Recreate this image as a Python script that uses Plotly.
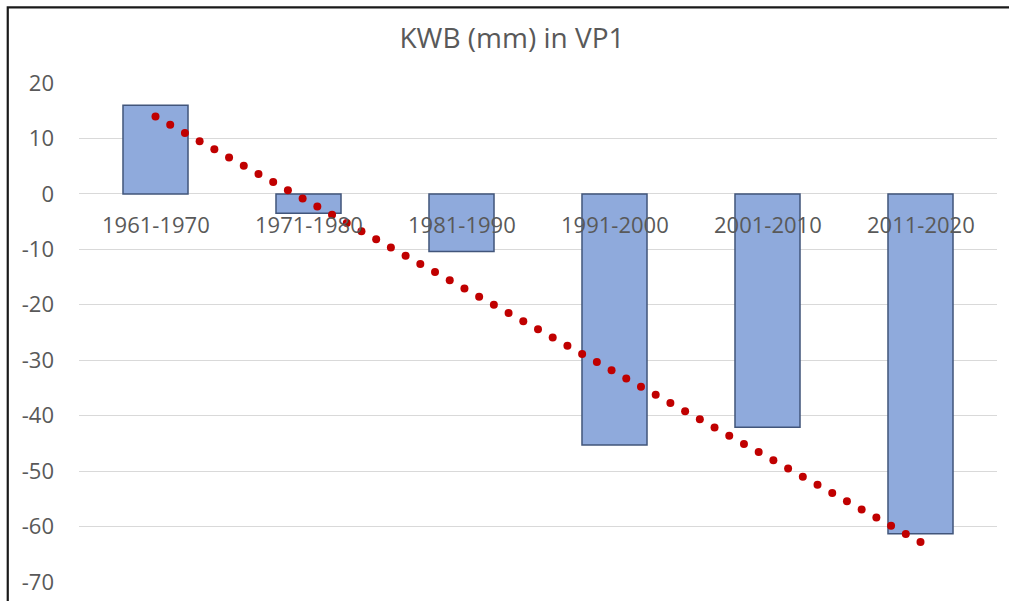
import numpy as np
import plotly.graph_objects as go

# Decades and climatic water balance (KWB) per decade, mm
decades = ["1961-1970", "1971-1980", "1981-1990", "1991-2000", "2001-2010", "2011-2020"]
kwb_mm = [16.0, -3.5, -10.4, -45.3, -42.1, -61.3]
y_ticks = [20, 10, 0, -10, -20, -30, -40, -50, -60, -70]

positions = np.arange(1, len(decades) + 1)

# Linear trend through the decade values
slope, intercept = np.polyfit(positions, kwb_mm, 1)
trend_x = np.linspace(positions[0], positions[-1], 53)
trend_y = slope * trend_x + intercept

TEXT = "#595959"
FONT = "Open Sans"

fig = go.Figure()

fig.add_trace(go.Bar(
    x=positions,
    y=kwb_mm,
    marker=dict(color="#8FAADC", line=dict(color="#41557A", width=1.5)),
    width=0.425,
    hoverinfo="skip",
))

# Dotted trend line drawn as round dots
fig.add_trace(go.Scatter(
    x=trend_x,
    y=trend_y,
    mode="markers",
    marker=dict(color="#C00000", size=8, line=dict(width=0)),
    hoverinfo="skip",
))

# Category labels sit next to the zero line
for pos, label in zip(positions, decades):
    fig.add_annotation(
        x=pos, y=0, xref="x", yref="y",
        text=label, showarrow=False,
        yanchor="middle", yshift=-30,
        font=dict(family=FONT, size=22, color=TEXT),
    )

# Chart frame
fig.add_shape(
    type="rect", xref="paper", yref="paper",
    x0=-0.0776, x1=1.2, y0=-0.2, y1=1.1514,
    line=dict(color="#1A1A1A", width=2.2),
    fillcolor="rgba(0,0,0,0)", layer="above",
)

fig.update_layout(
    width=1009, height=601,
    margin=dict(l=79, r=12, t=83, b=19, autoexpand=False),
    paper_bgcolor="white",
    plot_bgcolor="white",
    showlegend=False,
    title=dict(
        text="KWB (mm) in VP1",
        x=512 / 1009, xanchor="center",
        y=1 - 38 / 601, yanchor="middle",
        font=dict(family=FONT, size=28, color=TEXT),
    ),
    xaxis=dict(
        range=[0.5, len(decades) + 0.5],
        showticklabels=False, showgrid=False, zeroline=False,
        showline=False, fixedrange=True, automargin=False,
    ),
    yaxis=dict(
        range=[-70, 20],
        tickvals=y_ticks,
        ticktext=[str(v) for v in y_ticks],
        showgrid=True, gridcolor="#D9D9D9", gridwidth=1.3,
        zeroline=False, showline=False, automargin=False,
        ticks="", ticklabelstandoff=24,
        tickfont=dict(family=FONT, size=22, color=TEXT),
    ),
)

fig.write_html("out.html")
